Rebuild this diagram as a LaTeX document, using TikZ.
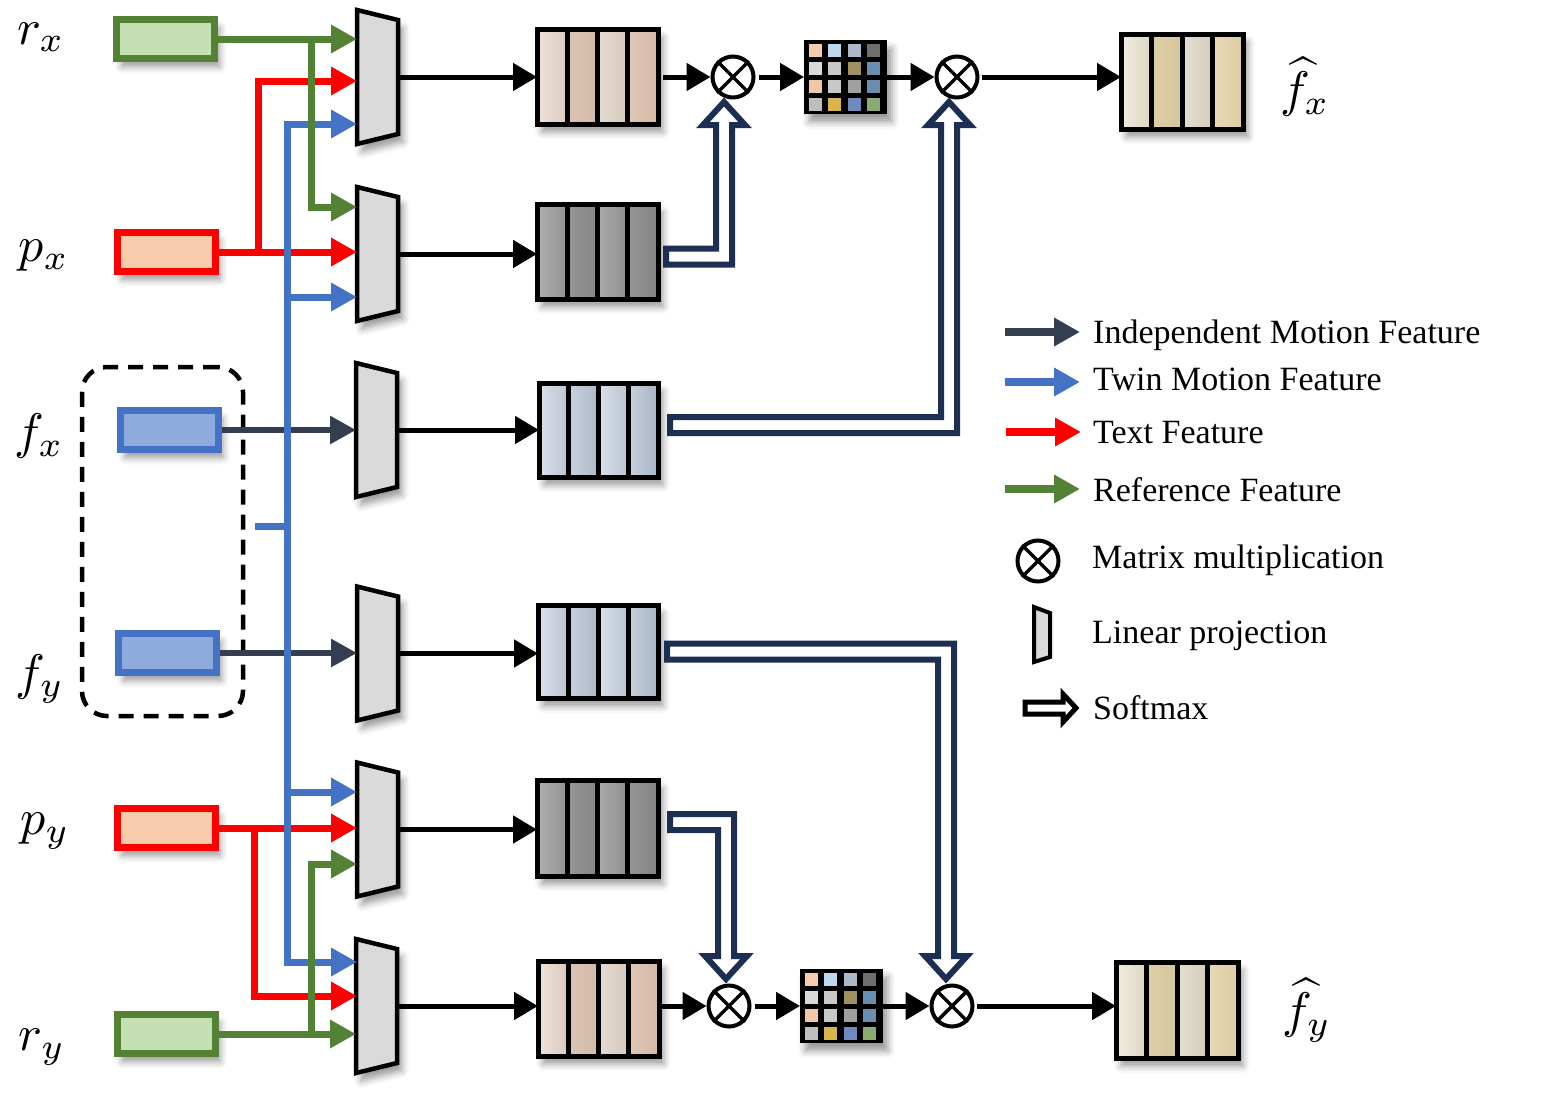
\documentclass[tikz,border=0pt]{standalone}
\usepackage{fontspec}
\setmainfont{Liberation Serif}
\usetikzlibrary{arrows.meta,calc,shadows.blur}

\definecolor{cgreen}{HTML}{548235}
\definecolor{cgreenf}{HTML}{C5E0B4}
\definecolor{cred}{HTML}{FF0000}
\definecolor{credf}{HTML}{F8CBAD}
\definecolor{cblue}{HTML}{4472C4}
\definecolor{cbluef}{HTML}{8FAADC}
\definecolor{cdark}{HTML}{333F50}
\definecolor{cnavy}{HTML}{1C2F52}
\definecolor{cproj}{HTML}{DADADA}
% stripe colours
\definecolor{pk0a}{HTML}{EDE3DB}\definecolor{pk0b}{HTML}{DCCABE}
\definecolor{pk1a}{HTML}{DBC3B4}\definecolor{pk1b}{HTML}{D5BAA8}
\definecolor{pk2a}{HTML}{E5DBD2}\definecolor{pk2b}{HTML}{D6C9BD}
\definecolor{pk3a}{HTML}{DFC6B6}\definecolor{pk3b}{HTML}{D5B9A6}
\definecolor{gy0a}{HTML}{B0B0B0}\definecolor{gy0b}{HTML}{929292}
\definecolor{gy1a}{HTML}{969696}\definecolor{gy1b}{HTML}{848484}
\definecolor{gy2a}{HTML}{ABABAB}\definecolor{gy2b}{HTML}{8F8F8F}
\definecolor{gy3a}{HTML}{969696}\definecolor{gy3b}{HTML}{828282}
\definecolor{bl0a}{HTML}{DCE1E9}\definecolor{bl0b}{HTML}{BAC4D2}
\definecolor{bl1a}{HTML}{C9D1DD}\definecolor{bl1b}{HTML}{AEB9C9}
\definecolor{bl2a}{HTML}{DAE0E8}\definecolor{bl2b}{HTML}{BAC4D1}
\definecolor{bl3a}{HTML}{C8D0DC}\definecolor{bl3b}{HTML}{A9B5C6}
\definecolor{be0a}{HTML}{F2EDE0}\definecolor{be0b}{HTML}{DDD6C2}
\definecolor{be1a}{HTML}{DECFA8}\definecolor{be1b}{HTML}{D5C69C}
\definecolor{be2a}{HTML}{E5DFD3}\definecolor{be2b}{HTML}{D5CDBB}
\definecolor{be3a}{HTML}{E8DAB8}\definecolor{be3b}{HTML}{DDCCA2}

\tikzset{
  shad/.style={blur shadow={shadow xshift=5pt, shadow yshift=-8pt, shadow blur radius=7pt, shadow opacity=40}},
  inbox/.style={draw, line width=7pt, minimum width=98pt, minimum height=39pt, inner sep=0pt, shad},
  colarr/.style={line width=7pt, -{Triangle[length=26pt,width=27pt]}},
  colline/.style={line width=7pt},
  karr/.style={line width=5pt, black, -{Triangle[length=24pt,width=27pt]}},
  darr/.style={line width=6pt, cdark, -{Triangle[length=26pt,width=27pt]}},
  legarr/.style={line width=8pt, -{Triangle[length=26pt,width=27pt]}},
  soft/.style={draw=cnavy, fill=white, line width=6pt, line join=miter, miter limit=10},
  lbl/.style={scale=5, inner sep=0pt},
  legtext/.style={font=\fontsize{34}{38}\selectfont, anchor=base west, inner sep=0pt},
  otimesn/.style={circle, draw, line width=4pt, minimum size=41pt, inner sep=0pt, fill=white},
  box/.style={inner sep=0pt, outer sep=0pt},
  pk0/.style={left color=pk0a, right color=pk0b}, pk1/.style={left color=pk1a, right color=pk1b},
  pk2/.style={left color=pk2a, right color=pk2b}, pk3/.style={left color=pk3a, right color=pk3b},
  gy0/.style={left color=gy0a, right color=gy0b}, gy1/.style={left color=gy1a, right color=gy1b},
  gy2/.style={left color=gy2a, right color=gy2b}, gy3/.style={left color=gy3a, right color=gy3b},
  bl0/.style={left color=bl0a, right color=bl0b}, bl1/.style={left color=bl1a, right color=bl1b},
  bl2/.style={left color=bl2a, right color=bl2b}, bl3/.style={left color=bl3a, right color=bl3b},
  be0/.style={left color=be0a, right color=be0b}, be1/.style={left color=be1a, right color=be1b},
  be2/.style={left color=be2a, right color=be2b}, be3/.style={left color=be3a, right color=be3b},
}

% linear projection: name, left x, centre y
\newcommand\projbox[3]{%
  \node[box, minimum width=41pt, minimum height=134pt] (#1) at (#2+20.5,#3) {};
  \draw[line width=4.5pt, fill=cproj, line join=miter, shad]
    (#1.north west) -- ($(#1.north east)+(0,10)$) -- ($(#1.south east)+(0,-10)$) -- (#1.south west) -- cycle;
}
% striped feature block: name, x1, y1, x2, y2, stripe style prefix
\newcommand\fblock[6]{%
  \pgfmathsetmacro\fbW{#4-#2}\pgfmathsetmacro\fbH{#5-#3}
  \node[box, minimum width=\fbW pt, minimum height=\fbH pt, fill=white, shad] (#1) at ({(#2+#4)/2},{(#3+#5)/2}) {};
  \foreach \i in {0,1,2,3} {\shade[#6\i] ({#2+\i*\fbW/4},#3) rectangle ({#2+(\i+1)*\fbW/4},#5);}
  \draw[line width=5pt] (#1.north west) rectangle (#1.south east);
  \foreach \i in {1,2,3} {\draw[line width=5pt] ({#2+\i*\fbW/4},#3) -- ({#2+\i*\fbW/4},#5);}
}
% attention matrix grid: name, cx, cy
\newcommand\mgrid[3]{%
  \node[box, minimum width=83pt, minimum height=74pt, fill=black, shad] (#1) at (#2,#3) {};
  \foreach \col [count=\k from 0] in {F4CDB0,BDD7EE,ADB9CA,6E6E6E,D9D9D9,C8C8C8,9E9060,6A8EB0,F1C7AA,C8C8C8,A0A0A0,6A8EB0,BFBFBF,D9B44A,7189BC,8AAC72}{
    \pgfmathtruncatemacro\rr{int(\k/4)}\pgfmathtruncatemacro\cc{mod(\k,4)}
    \definecolor{tmpc}{HTML}{\col}
    \fill[tmpc] ($(#1.north west)+(5+\cc*19.3,4+\rr*18)$) rectangle ++(13,13);
  }
}
% matrix multiplication: name, x, y
\newcommand\omul[3]{%
  \node[otimesn] (#1) at (#2,#3) {};
  \draw[line width=3.5pt] (#1.north west) -- (#1.south east) (#1.north east) -- (#1.south west);
}
% softmax arrows (hollow bent arrows)
\newcommand\softup[2]{%
  \path[soft] let \p1=(#1), \p2=(#2) in
   (\x1,\y1+8pt) -- (\x2-8pt,\y1+8pt) -- (\x2-8pt,\y2-23pt) -- (\x2-21pt,\y2-23pt) -- (\x2,\y2)
   -- (\x2+21pt,\y2-23pt) -- (\x2+8pt,\y2-23pt) -- (\x2+8pt,\y1-8pt) -- (\x1,\y1-8pt) -- cycle;
}
\newcommand\softdown[2]{%
  \path[soft] let \p1=(#1), \p2=(#2) in
   (\x1,\y1-8pt) -- (\x2-8pt,\y1-8pt) -- (\x2-8pt,\y2+23pt) -- (\x2-21pt,\y2+23pt) -- (\x2,\y2)
   -- (\x2+21pt,\y2+23pt) -- (\x2+8pt,\y2+23pt) -- (\x2+8pt,\y1+8pt) -- (\x1,\y1+8pt) -- cycle;
}

\begin{document}
\begin{tikzpicture}[x=1pt,y=-1pt]
\useasboundingbox (0,0) rectangle (1563,1103);

% dashed group
\node[draw, line width=4.5pt, dash pattern=on 15pt off 10pt, rounded corners=25pt,
      minimum width=161pt, minimum height=349pt, inner sep=0pt] (grp) at (162.5,541.5) {};

% labels
\node[lbl] (lrx) at (41,37) {$r_x$};
\node[lbl] (lpx) at (44,256) {$p_x$};
\node[lbl] (lfx) at (39,436) {$f_x$};
\node[lbl] (lfy) at (40,679) {$f_y$};
\node[lbl] (lpy) at (45,831) {$p_y$};
\node[lbl] (lry) at (42,1047) {$r_y$};
\node[lbl] (lhx) at (1305,87) {$\widehat{f}_x$};
\node[lbl] (lhy) at (1307,1010) {$\widehat{f}_y$};

% input boxes
\node[inbox, draw=cgreen, fill=cgreenf] (rx) at (165.5,39) {};
\node[inbox, draw=cred, fill=credf] (px) at (166,252) {};
\node[inbox, draw=cblue, fill=cbluef] (fx) at (169,430) {};
\node[inbox, draw=cblue, fill=cbluef] (fy) at (167.5,653) {};
\node[inbox, draw=cred, fill=credf] (py) at (166,828) {};
\node[inbox, draw=cgreen, fill=cgreenf] (ry) at (166,1034) {};

% projections
\projbox{T1}{357}{77}
\projbox{T2}{357}{254}
\projbox{T3}{356}{430}
\projbox{T4}{357}{653.5}
\projbox{T5}{357}{829.5}
\projbox{T6}{356}{1006}

% feature blocks
\fblock{B1}{537}{29}{658}{124}{pk}
\fblock{B2}{537}{204}{658}{299}{gy}
\fblock{B3}{539}{383}{658}{477}{bl}
\fblock{B4}{538}{605}{658}{698}{bl}
\fblock{B5}{537}{780}{658}{876}{gy}
\fblock{B6}{538}{961}{659}{1056}{pk}
\fblock{O1}{1121}{34}{1243}{129}{be}
\fblock{O2}{1116}{962}{1238}{1058}{be}

% grids and products
\mgrid{G1}{845.5}{77}
\mgrid{G2}{841.5}{1006}
\omul{M1}{733}{77}
\omul{M2}{957}{77}
\omul{M3}{729}{1006}
\omul{M4}{952}{1006}

% bus coordinates
\coordinate (gjx) at (311,39);
\coordinate (T2g) at (357,207);
\coordinate (rjx) at (258,252);
\coordinate (T1r) at (357,81);
\coordinate (bb1) at (287,124);
\coordinate (bb2) at (287,962);
\coordinate (T1b) at (357,124);
\coordinate (T2b) at (357,297);
\coordinate (T5b) at (357,792);
\coordinate (T6b) at (357,962);
\coordinate (bstub) at (255,526);
\coordinate (rjy) at (254,828);
\coordinate (T6r) at (357,996);
\coordinate (gjy) at (311,1034);
\coordinate (T5g) at (357,864);

% text feature (red)
\draw[colarr, cred] (px.east) -- (px.east -| T2.west);
\draw[colarr, cred] (rjx) |- (T1r);
\draw[colarr, cred] (py.east) -- (py.east -| T5.west);
\draw[colarr, cred] (rjy) |- (T6r);
% independent motion (dark)
\draw[darr] (fx.east) -- (fx.east -| T3.west);
\draw[darr] (fy.east) -- (fy.east -| T4.west);
% twin motion (blue)
\draw[colarr, cblue] (bb2) |- (T1b);
\draw[colarr, cblue] (bb1) |- (T6b);
\draw[colarr, cblue] (bb1 |- T2b) -- (T2b);
\draw[colarr, cblue] (bb1 |- T5b) -- (T5b);
\draw[colline, cblue] (bstub) -- (bstub -| bb1);
% reference (green)
\draw[colarr, cgreen] (rx.east) -- (rx.east -| T1.west);
\draw[colarr, cgreen] (gjx) |- (T2g);
\draw[colarr, cgreen] (ry.east) -- (ry.east -| T6.west);
\draw[colarr, cgreen] (gjy) |- (T5g);

% projection outputs
\draw[karr] (T1.east) -- (T1.east -| B1.west);
\draw[karr] (T2.east) -- (T2.east -| B2.west);
\draw[karr] (T3.east) -- (T3.east -| B3.west);
\draw[karr] (T4.east) -- (T4.east -| B4.west);
\draw[karr] (T5.east) -- (T5.east -| B5.west);
\draw[karr] (T6.east) -- (T6.east -| B6.west);

% top chain
\draw[karr, shorten <=5pt] (B1.east |- M1.west) -- (M1.west);
\draw[karr, shorten <=3pt] (M1.east) -- (G1.west |- M1.east);
\draw[karr] (G1.east |- M2.west) -- (M2.west);
\draw[karr, shorten <=2pt] (M2.east) -- (O1.west |- M2.east);
% bottom chain
\draw[karr, shorten <=3pt] (B6.east |- M3.west) -- (M3.west);
\draw[karr, shorten <=3pt] (M3.east) -- (G2.west |- M3.east);
\draw[karr] (G2.east |- M4.west) -- (M4.west);
\draw[karr, shorten <=2pt] (M4.east) -- (O2.west |- M4.east);

% softmax arrows
\coordinate (sA) at ($(B2.east)+(8,5)$);
\coordinate (tA) at ($(M1.center)+(-9,25)$);
\coordinate (sB) at ($(B3.east)+(12,-5)$);
\coordinate (tB) at ($(M2.center)+(-8,25)$);
\coordinate (sC) at ($(B5.east)+(12,-6)$);
\coordinate (tC) at ($(M3.center)+(-3,-27)$);
\coordinate (sD) at ($(B4.east)+(9,0)$);
\coordinate (tD) at ($(M4.center)+(-6,-27)$);
\softup{sA}{tA}
\softup{sB}{tB}
\softdown{sC}{tC}
\softdown{sD}{tD}

% legend
\coordinate (L1a) at (1005,332); \coordinate (L1b) at (1080,332);
\coordinate (L2a) at (1005,382); \coordinate (L2b) at (1080,382);
\coordinate (L3a) at (1006,432); \coordinate (L3b) at (1081,432);
\coordinate (L4a) at (1005,489); \coordinate (L4b) at (1080,489);
\draw[legarr, cdark] (L1a) -- (L1b);
\draw[legarr, cblue] (L2a) -- (L2b);
\draw[legarr, cred] (L3a) -- (L3b);
\draw[legarr, cgreen] (L4a) -- (L4b);
\node[legtext] (t1) at (1093,343) {Independent Motion Feature};
\node[legtext] (t2) at (1093,390) {Twin Motion Feature};
\node[legtext] (t3) at (1093,443) {Text Feature};
\node[legtext] (t4) at (1093,501) {Reference Feature};
\omul{Lm}{1038}{561}
\node[legtext] (t5) at (1092,568) {Matrix multiplication};
\draw[line width=4pt, fill=cproj, line join=miter] (1034,607) -- (1050,613) -- (1050,657) -- (1034,662) -- cycle;
\node[legtext] (t6) at (1092,643) {Linear projection};
\draw[line width=5pt, fill=white, line join=miter] (1025,702) -- (1063,702) -- (1063,694) -- (1076,708) -- (1063,722) -- (1063,714) -- (1025,714) -- cycle;
\node[legtext] (t7) at (1093,719) {Softmax};
\end{tikzpicture}
\end{document}
